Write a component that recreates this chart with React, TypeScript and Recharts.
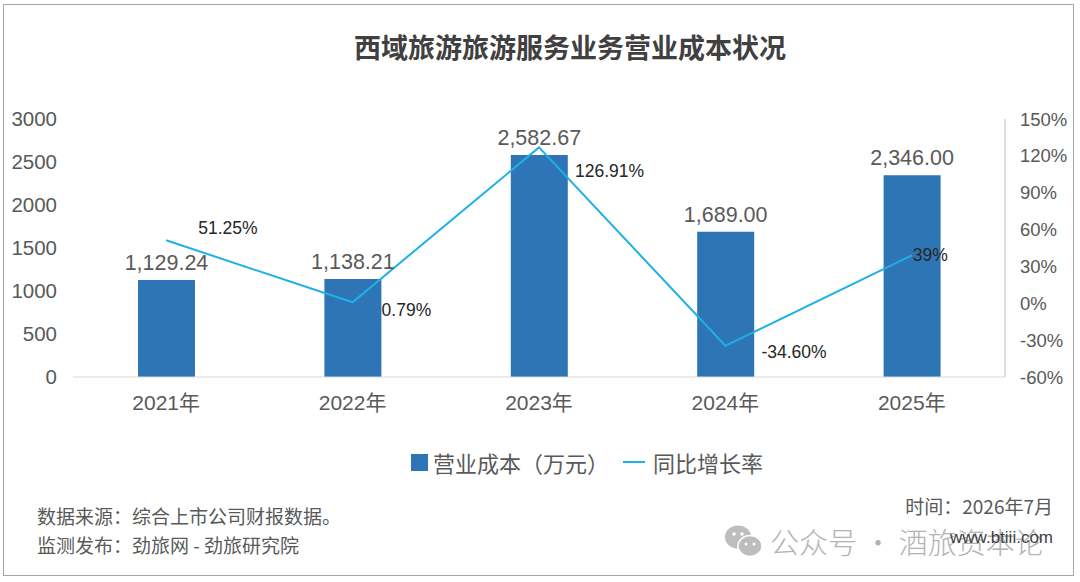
import { Bar, ComposedChart, LabelList, Line, XAxis, YAxis } from 'recharts'

const years = ['2021年', '2022年', '2023年', '2024年', '2025年']
const costValues = [1129.24, 1138.21, 2582.67, 1689.0, 2346.0]
const growthRates = [51.25, 0.79, 126.91, -34.6, 39]
const growthLabels = ['51.25%', '0.79%', '126.91%', '-34.60%', '39%']
const costTicks = [0, 500, 1000, 1500, 2000, 2500, 3000]
const rateTicks = [-60, -30, 0, 30, 60, 90, 120, 150]

// label nudges for the growth line, roughly where Excel put them
const rateLabelShift = [
  [32, -12],
  [29, 8],
  [36, 24],
  [36, 6],
  [1, 0],
]

const data = years.map((year, i) => ({
  year,
  cost: costValues[i],
  rate: growthRates[i],
}))

const FONT = "'Liberation Sans', 'Noto Sans CJK SC', sans-serif"
const CJK = "'Noto Sans CJK SC', sans-serif"
const BAR = '#2e75b6'
const LINE = '#1fb0e6'
const GREY = '#595959'

const fmtCost = (v: number) =>
  v.toLocaleString('en-US', { minimumFractionDigits: 2, maximumFractionDigits: 2 })

function RateLabel(props: any) {
  const { x, y, index } = props
  const [dx, dy] = rateLabelShift[index]
  return (
    <text x={x + dx} y={y + dy} dominantBaseline="central" fill="#262626" fontSize={17.5} fontFamily={FONT}>
      {growthLabels[index]}
    </text>
  )
}

export default function App() {
  return (
    <div
      style={{
        position: 'fixed',
        left: 0,
        top: 0,
        width: 1080,
        height: 582,
        background: '#fff',
        fontFamily: CJK,
      }}
    >
      <div
        style={{
          position: 'absolute',
          left: 3,
          top: 4,
          width: 1069,
          height: 570,
          border: '1px solid #a6a6a6',
        }}
      />
      <div
        style={{
          position: 'absolute',
          left: 0,
          width: 1140,
          top: 30,
          textAlign: 'center',
          fontSize: 27,
          fontWeight: 700,
          color: '#404040',
          lineHeight: '34px',
        }}
      >
        西域旅游旅游服务业务营业成本状况
      </div>

      <div style={{ position: 'absolute', left: 0, top: 0 }}>
        <ComposedChart width={1080} height={430} data={data} margin={{ top: 119, right: 0, left: 0, bottom: 13 }}>
          <XAxis
            dataKey="year"
            axisLine={{ stroke: '#d9d9d9' }}
            tickLine={false}
            tickSize={0}
            tickMargin={18}
            height={40}
            tick={{ fill: GREY, fontSize: 21, fontFamily: FONT }}
          />
          <YAxis
            yAxisId="cost"
            domain={[0, 3000]}
            ticks={costTicks}
            width={73}
            axisLine={false}
            tickLine={false}
            tickSize={0}
            tickMargin={16}
            tick={{ fill: GREY, fontSize: 20.5, fontFamily: FONT }}
          />
          <YAxis
            yAxisId="rate"
            orientation="right"
            domain={[-60, 150]}
            ticks={rateTicks}
            width={75}
            axisLine={{ stroke: '#bfbfbf' }}
            tickLine={false}
            tickSize={0}
            tickMargin={15}
            tickFormatter={(v) => `${v}%`}
            tick={{ fill: GREY, fontSize: 18.5, fontFamily: FONT }}
          />
          <Bar yAxisId="cost" dataKey="cost" fill={BAR} barSize={57} isAnimationActive={false}>
            <LabelList
              dataKey="cost"
              position="top"
              offset={10}
              formatter={(v: any) => fmtCost(Number(v))}
              style={{ fill: GREY, fontSize: 21.5, fontFamily: FONT }}
            />
          </Bar>
          <Line
            yAxisId="rate"
            dataKey="rate"
            type="linear"
            stroke={LINE}
            strokeWidth={2}
            dot={false}
            isAnimationActive={false}
          >
            <LabelList dataKey="rate" content={<RateLabel />} />
          </Line>
        </ComposedChart>
      </div>

      {/* legend */}
      <div
        style={{
          position: 'absolute',
          left: 411,
          top: 447,
          display: 'flex',
          alignItems: 'center',
          fontSize: 22,
          color: GREY,
          lineHeight: '30px',
        }}
      >
        <span style={{ width: 17, height: 17, background: BAR, marginRight: 5 }} />
        <span>营业成本（万元）</span>
        <span style={{ width: 22, height: 2, background: LINE, margin: '0 8px 0 14px' }} />
        <span>同比增长率</span>
      </div>

      {/* footer */}
      <div style={{ position: 'absolute', left: 37, top: 503, fontSize: 19, color: GREY, lineHeight: '26px' }}>
        数据来源：综合上市公司财报数据。
      </div>
      <div style={{ position: 'absolute', left: 37, top: 532, fontSize: 19, color: GREY, lineHeight: '26px' }}>
        监测发布：劲旅网 - 劲旅研究院
      </div>
      <div
        style={{
          position: 'absolute',
          right: 27,
          top: 494,
          fontSize: 19,
          color: GREY,
          lineHeight: '24px',
        }}
      >
        时间：2026年7月
      </div>

      {/* watermark */}
      <svg style={{ position: 'absolute', left: 724, top: 523 }} width={40} height={36}>
        <ellipse cx={14} cy={14} rx={13} ry={11.5} fill="#bdbdbd" />
        <ellipse cx={26} cy={23} rx={12} ry={10.5} fill="#bdbdbd" stroke="#fff" strokeWidth={1.5} />
        <circle cx={10} cy={11} r={1.8} fill="#fff" />
        <circle cx={18} cy={11} r={1.8} fill="#fff" />
        <circle cx={22} cy={21} r={1.5} fill="#fff" />
        <circle cx={30} cy={21} r={1.5} fill="#fff" />
      </svg>
      <div
        style={{
          position: 'absolute',
          left: 770,
          top: 525,
          fontSize: 29,
          fontWeight: 300,
          color: '#b3b3b3',
          lineHeight: '32px',
          whiteSpace: 'nowrap',
        }}
      >
        公众号 · 酒旅资本论
      </div>
      <div
        style={{
          position: 'absolute',
          right: 27,
          top: 527,
          fontSize: 17,
          color: '#404040',
          lineHeight: '22px',
          fontFamily: FONT,
        }}
      >
        www.btiii.com
      </div>
    </div>
  )
}
